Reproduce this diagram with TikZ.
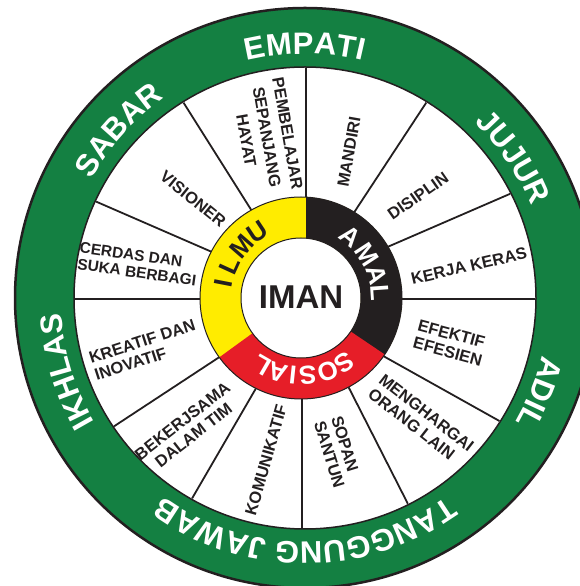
\documentclass[tikz,border=0pt]{standalone}
\usepackage{fontspec}
\setmainfont{Liberation Sans}
\usetikzlibrary{calc,decorations.text}
\definecolor{wgreen}{RGB}{20,128,66}
\definecolor{wdark}{RGB}{35,31,32}
\definecolor{wyellow}{RGB}{255,236,0}
\definecolor{wred}{RGB}{230,30,40}
\newcommand\wheelouterfont{\bfseries\fontsize{31}{31}\selectfont}
\begin{document}
\begin{tikzpicture}[x=1pt,y=1pt,
  spoke/.style={draw=wdark,line width=1.8pt},
  lbl/.style={font=\bfseries\fontsize{16.5}{18}\selectfont,text=wdark,inner sep=0pt},
  ringletter/.style={font=\bfseries\fontsize{26}{26}\selectfont,inner sep=0pt,anchor=base},
  arctext/.style={decorate,decoration={text along path,text align=center,text color=white,text={|\wheelouterfont|#1}}}]
\useasboundingbox (0,0) rectangle (580,586);
\clip (0,0) rectangle (580,586);
\fill[white] (0,0) rectangle (580,586);
\coordinate (C0) at (305,288);
\coordinate (C1) at (301,288);
% outer ring
\fill[wgreen,draw=wdark,line width=2.5pt] (C0) circle[radius=290pt];
\fill[white,draw=wdark,line width=1.5pt] (C0) circle[radius=231pt];
% spokes
\begin{scope}
\clip (C0) circle[radius=230pt];
\foreach \ax/\ay/\bx/\by [count=\i] in {
  306/518/306/390, 185/481/250/378, 97/384/212/334, 74/287/200/287,
  113/159/218/228, 190/84/255/196, 302/58/302/187, 410/78/350/196,
  503/163/385/229, 537/287/400/287, 512/393/392/341, 426/483/357/378}{
  \coordinate (sa\i) at (\ax,\ay);
  \coordinate (sb\i) at (\bx,\by);
  \draw[spoke] ($(sb\i)!1.3!(sa\i)$) -- ($(sa\i)!1.15!(sb\i)$);
}
\end{scope}
% coloured ring
\fill[wyellow,even odd rule] (C1) circle[radius=101pt] (C1) circle[radius=60pt];
\begin{scope}
\clip (306,100) rectangle (450,450);
\fill[wdark,even odd rule] (C1) circle[radius=101pt] (C1) circle[radius=60pt];
\end{scope}
\begin{scope}
\clip (C1) -- ($(C1)+(-34:200pt)$) -- ($(C1)+(216:200pt)$) -- cycle;
\fill[wred,even odd rule] (C1) circle[radius=101pt] (C1) circle[radius=60pt];
\end{scope}
\draw[wdark,line width=1pt] (C1) circle[radius=101pt] (C1) circle[radius=60pt];
\node[font=\bfseries\fontsize{33}{33}\selectfont,text=wdark,inner sep=0pt] (iman) at (301,288.5) {IMAN};
% ring words
\foreach \ch/\ang [count=\i] in {I/169,L/155.5,M/139,U/123.5}
  \node[ringletter,text=wdark,rotate=\ang-90] (ilmu\i) at ($(C1)+(\ang:70pt)$) {\ch};
\foreach \ch/\ang [count=\i] in {A/51,M/33,A/17,L/4}
  \node[ringletter,text=white,rotate=\ang-90] (amal\i) at ($(C1)+(\ang:70pt)$) {\ch};
\foreach \ch/\ang [count=\i] in {S/-56,O/-70,S/-85,I/-96,A/-107,L/-120}
  \node[ringletter,text=white,rotate=\ang-90] (sosial\i) at ($(C1)+(\ang:69pt)$) {\ch};
% outer words
\path[arctext=EMPATI] ($(C0)+(150:244pt)$) arc[start angle=150,end angle=30,radius=244pt];
\path[arctext=JUJUR] ($(C0)+(94:244pt)$) arc[start angle=94,end angle=-26,radius=244pt];
\path[arctext=ADIL] ($(C0)+(38:244pt)$) arc[start angle=38,end angle=-82,radius=244pt];
\path[arctext=TANGGUNG JAWAB] ($(C0)+(-15:244pt)$) arc[start angle=-15,end angle=-165,radius=244pt];
\path[arctext=IKHLAS] ($(C0)+(257:244pt)$) arc[start angle=257,end angle=137,radius=244pt];
\path[arctext=SABAR] ($(C0)+(198:244pt)$) arc[start angle=198,end angle=78,radius=244pt];
% sector labels
\node[lbl,rotate=-80,align=center,font=\bfseries\fontsize{16.5}{21}\selectfont] (pemb) at (267,449) {PEMBELAJAR\\SEPANJANG\\HAYAT};
\node[lbl,rotate=80] (mandiri) at (349,434) {MANDIRI};
\node[lbl,rotate=35] (disiplin) at (418,390) {DISIPLIN};
\node[lbl,rotate=13] (kerja) at (469,320) {KERJA KERAS};
\node[lbl,rotate=-15,align=left] (efektif) at (450,243) {EFEKTIF\\EFESIEN};
\node[lbl,rotate=-38,align=left] (menghargai) at (421,166) {MENGHARGAI\\ORANG LAIN};
\node[lbl,rotate=-73,align=left] (sopan) at (338,134) {SOPAN\\SANTUN};
\node[lbl,rotate=74] (komunikatif) at (266,126) {KOMUNIKATIF};
\node[lbl,rotate=38,align=center] (bekerjsama) at (188,158) {BEKERJSAMA\\DALAM TIM};
\node[lbl,rotate=18,align=left] (kreatif) at (145,236) {KREATIF DAN\\INOVATIF};
\node[lbl,rotate=-8,align=left,font=\bfseries\fontsize{15.5}{17}\selectfont] (cerdas) at (138,322) {CERDAS DAN\\SUKA BERBAGI};
\node[lbl,rotate=-39] (visioner) at (193,387) {VISIONER};
\end{tikzpicture}
\end{document}
